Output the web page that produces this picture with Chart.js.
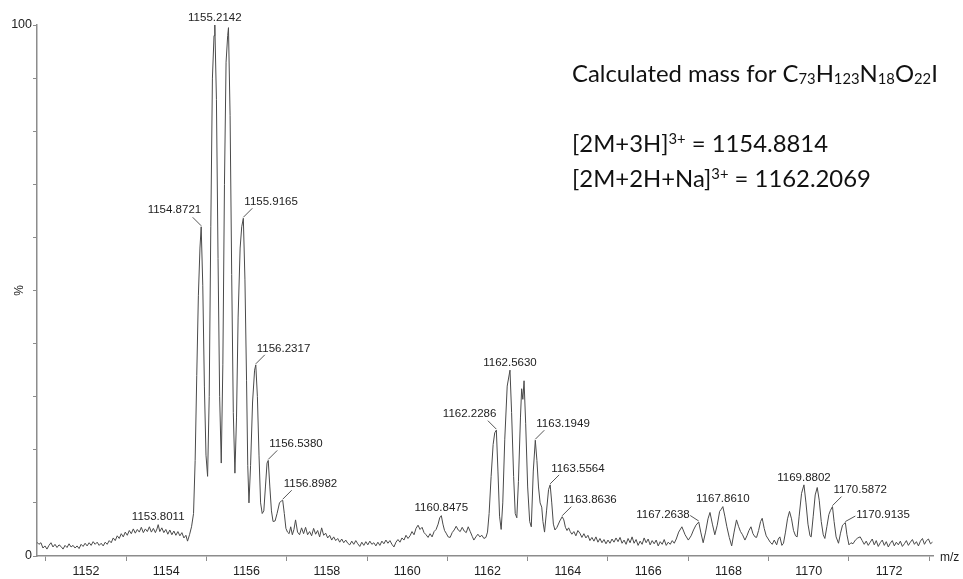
<!DOCTYPE html>
<html>
<head>
<meta charset="utf-8">
<script src="https://cdn.jsdelivr.net/npm/chart.js@4.4.1/dist/chart.umd.min.js"></script>
<style>
  html, body { margin: 0; padding: 0; background: #fff; }
  #spectrum { display: block; }
</style>
</head>
<body>
<canvas id="spectrum" width="963" height="579"></canvas>
<script>
// ---- spectrum: [m/z, relative intensity %] ----
const lowMassNoise = [
  [1150.78,2.6],[1150.83,2.2],[1150.88,2.5],[1150.93,1.5],[1150.98,1.9],[1151.03,1.3],[1151.08,2.0],[1151.13,2.5],
  [1151.18,1.7],[1151.23,2.2],[1151.28,1.6],[1151.33,2.1],[1151.38,1.8],[1151.43,1.3],[1151.48,2.0],[1151.53,1.6],
  [1151.58,2.3],[1151.63,1.7],[1151.68,2.0],[1151.73,1.5],[1151.78,1.9],[1151.83,1.4],[1151.88,2.2],[1151.93,1.8],
  [1151.98,2.4],[1152.03,1.9],[1152.08,2.5],[1152.13,2.0],[1152.18,2.7],[1152.23,2.2],[1152.28,2.6],[1152.33,2.0],
  [1152.38,2.4],[1152.43,1.9],[1152.48,2.6],[1152.53,2.2],[1152.58,2.9],[1152.63,2.5],[1152.68,3.4],[1152.73,2.9],
  [1152.78,3.8],[1152.83,3.3],[1152.88,4.2],[1152.93,3.6],[1152.98,4.5],[1153.03,3.9],[1153.08,4.8],[1153.13,4.2],
  [1153.18,5.1],[1153.23,4.3],[1153.28,5.0],[1153.33,4.5],[1153.38,5.4],[1153.43,4.4],[1153.48,5.1],[1153.53,4.6],
  [1153.58,5.5],[1153.63,4.5],[1153.68,5.2],[1153.73,4.4],[1153.77,5.1],[1153.80,5.9],[1153.84,4.6],[1153.89,5.3],
  [1153.94,4.4],[1153.99,5.0],[1154.04,4.1],[1154.09,4.9],[1154.14,4.0],[1154.19,4.7],[1154.24,3.9],[1154.29,4.6],
  [1154.34,3.8],[1154.39,4.4],[1154.44,3.4],[1154.49,3.9],[1154.53,2.8],[1154.58,4.0],[1154.63,5.5]
];
const mainCluster = [
  [1154.68,8],[1154.72,18],[1154.76,34],[1154.80,49],[1154.84,58],[1154.87,62],[1154.91,51],[1154.95,32],
  [1154.99,19],[1155.03,15],[1155.07,30],[1155.11,62],[1155.15,90],[1155.19,98],[1155.21,100],[1155.25,86],
  [1155.29,56],[1155.33,30],[1155.37,17.5],[1155.41,36],[1155.45,70],[1155.49,93],[1155.53,98],[1155.55,99.5],
  [1155.59,83],[1155.63,53],[1155.67,27],[1155.71,15.6],[1155.75,26],[1155.79,45],[1155.84,58],[1155.88,62],
  [1155.92,63.6],[1155.96,52],[1156.00,33],[1156.03,17],[1156.06,10],[1156.10,17],[1156.15,29],[1156.20,35],
  [1156.23,36],[1156.27,30],[1156.31,19],[1156.35,10],[1156.39,8],[1156.43,8.5],[1156.47,13],[1156.51,17.5],
  [1156.54,18],[1156.58,13],[1156.62,8.5],[1156.66,6.5],[1156.71,6.6],[1156.76,8],[1156.82,10],[1156.87,10.4],
  [1156.90,10.5],[1156.94,8],[1156.98,5.2],[1157.02,4.5]
];
const midNoise = [
  [1157.06,4.2],[1157.10,5.5],[1157.14,4.0],[1157.18,5.0],[1157.22,6.8],[1157.27,4.5],[1157.32,4.0],[1157.37,5.3],
  [1157.42,4.2],[1157.47,5.4],[1157.52,4.0],[1157.57,4.6],[1157.62,3.8],[1157.67,5.2],[1157.72,4.1],[1157.77,4.8],
  [1157.82,3.6],[1157.87,5.3],[1157.92,3.9],[1157.97,4.3],[1158.02,3.4],[1158.07,3.9],[1158.12,3.0],[1158.17,3.6],
  [1158.22,2.9],[1158.27,3.3],[1158.32,2.6],[1158.37,3.2],[1158.42,2.5],[1158.47,3.0],[1158.52,2.4],[1158.57,2.1],
  [1158.62,2.8],[1158.67,2.2],[1158.72,2.9],[1158.77,2.3],[1158.82,1.8],[1158.87,2.6],[1158.92,2.0],[1158.97,2.7],
  [1159.02,2.1],[1159.07,2.8],[1159.12,2.2],[1159.17,2.5],[1159.22,1.9],[1159.27,2.6],[1159.32,2.0],[1159.37,2.8],
  [1159.42,2.3],[1159.47,3.0],[1159.52,2.4],[1159.57,2.9],[1159.62,2.2],[1159.67,1.7],[1159.72,2.6],[1159.77,3.1],
  [1159.82,2.6],[1159.87,3.4],[1159.92,3.0],[1159.97,3.9],[1160.02,3.3],
  [1160.07,3.8],[1160.12,4.6],[1160.17,4.0],[1160.22,5.2],[1160.27,5.8],[1160.32,5.0],[1160.37,5.4],[1160.42,4.4],
  [1160.47,4.0],[1160.52,3.5],[1160.57,4.2],[1160.62,3.6],[1160.67,4.6],[1160.72,5.0],[1160.77,6.0],[1160.81,7.2],
  [1160.85,7.6],[1160.89,6.0],[1160.93,4.8],[1160.97,4.3],[1161.02,3.6],[1161.07,3.5],[1161.12,4.4],[1161.17,4.9],
  [1161.22,5.6],[1161.27,4.9],[1161.32,4.6],[1161.37,5.4],[1161.42,4.7],[1161.47,4.4],[1161.52,5.5],[1161.57,4.6],
  [1161.62,3.7],[1161.66,3.0],[1161.71,3.6],[1161.76,4.1],[1161.81,3.6],[1161.86,3.9],[1161.91,3.3],[1161.96,3.5],
  [1162.00,4.5]
];
const sodiumCluster = [
  [1162.04,8],[1162.09,15],[1162.14,21],[1162.18,23.2],[1162.22,23.7],[1162.26,16],[1162.30,7.5],[1162.34,5],
  [1162.38,10],[1162.43,22],[1162.49,32],[1162.56,35],[1162.60,27],[1162.65,15],[1162.69,8],[1162.73,7.2],
  [1162.77,14],[1162.82,26],[1162.85,31.5],[1162.88,29.5],[1162.91,33],[1162.95,25],[1163.00,13],[1163.05,6.5],
  [1163.09,5.5],[1163.14,16],[1163.19,21.8],[1163.23,18],[1163.27,13],[1163.31,10],[1163.35,9.2],[1163.38,6.5],
  [1163.42,4.5],[1163.47,8.5],[1163.52,12.5],[1163.56,13.4],[1163.60,10],[1163.64,6],[1163.68,4.9],[1163.73,5.4],
  [1163.80,6.6],[1163.86,7.4],[1163.90,6.8],[1163.94,5.4],[1163.98,4.8],[1164.02,5.3],[1164.06,4.6]
];
const quietRegion = [
  [1164.10,4.1],[1164.15,4.6],[1164.20,3.8],[1164.25,4.8],[1164.30,4.3],[1164.35,3.5],[1164.40,4.2],[1164.45,3.4],
  [1164.50,3.9],[1164.55,2.9],[1164.60,3.5],[1164.65,2.8],[1164.70,3.6],[1164.75,2.6],[1164.80,3.3],[1164.85,2.5],
  [1164.90,3.1],[1164.95,2.3],[1165.00,3.0],[1165.05,2.4],[1165.10,3.2],[1165.15,2.6],[1165.20,3.4],[1165.25,2.7],
  [1165.30,3.5],[1165.35,2.4],[1165.40,3.0],[1165.45,2.2],[1165.50,3.3],[1165.55,2.5],[1165.60,3.6],[1165.65,2.4],
  [1165.70,3.1],[1165.75,2.0],[1165.80,2.8],[1165.85,2.2],[1165.90,3.4],[1165.95,2.5],[1166.00,3.2],[1166.05,2.1],
  [1166.10,2.9],[1166.15,2.3],[1166.20,3.0],[1166.25,1.9],[1166.30,2.7],[1166.35,2.2],[1166.40,3.1],[1166.45,2.0],
  [1166.50,2.6],[1166.55,2.2],[1166.60,2.9],[1166.65,2.4],[1166.70,3.2]
];
const highCluster = [
  [1166.76,4.5],[1166.84,5.5],[1166.92,4.0],[1167.00,3.0],[1167.07,3.8],[1167.13,4.9],[1167.19,5.8],[1167.26,6.4],
  [1167.31,4.5],[1167.37,2.5],[1167.43,4.5],[1167.49,7.0],[1167.54,8.2],[1167.60,6.0],[1167.66,4.0],[1167.72,5.8],
  [1167.78,8.4],[1167.82,8.8],[1167.86,9.3],[1167.91,7.5],[1167.96,5.5],[1168.02,3.5],[1168.08,1.9],[1168.14,4.5],
  [1168.20,6.8],[1168.25,5.6],[1168.30,4.6],[1168.35,4.0],[1168.41,3.0],[1168.46,3.8],[1168.51,4.8],[1168.56,5.5],
  [1168.61,4.2],[1168.66,3.6],[1168.70,3.5],[1168.75,4.8],[1168.80,6.5],[1168.84,7.1],[1168.89,5.2],[1168.94,3.8],
  [1168.99,3.2],[1169.04,2.6],[1169.09,2.2],[1169.14,3.0],[1169.20,2.1],[1169.24,3.2],[1169.28,3.6],[1169.33,2.0],
  [1169.37,2.4],[1169.42,4.5],[1169.47,7.0],[1169.52,8.4],[1169.57,7.0],[1169.62,4.8],[1169.67,3.8],[1169.71,3.6],
  [1169.76,7.5],[1169.82,11.8],[1169.88,13.4],[1169.93,10.0],[1169.98,6.0],[1170.03,3.8],[1170.06,3.6],[1170.11,7.5],
  [1170.16,11.5],[1170.21,12.9],[1170.26,10.5],[1170.31,6.5],[1170.36,4.0],[1170.40,3.3],[1170.45,5.5],[1170.50,7.8],
  [1170.54,8.6],[1170.59,9.3],[1170.63,6.5],[1170.68,3.6],[1170.74,2.4],[1170.79,4.3],[1170.84,5.8],[1170.87,6.0],
  [1170.91,6.3],[1170.95,4.0],[1171.00,2.1]
];
const tailNoise = [
  [1171.05,2.5],[1171.10,2.3],[1171.16,3.0],[1171.22,3.4],[1171.28,3.6],[1171.33,2.9],[1171.38,2.2],[1171.43,2.8],
  [1171.48,2.0],[1171.53,2.6],[1171.58,3.2],[1171.63,2.1],[1171.68,2.9],[1171.73,1.8],[1171.78,2.5],[1171.83,3.0],
  [1171.88,2.0],[1171.93,2.7],[1171.98,1.7],[1172.03,2.4],[1172.08,2.9],[1172.13,1.9],[1172.18,2.6],[1172.23,2.1],
  [1172.28,2.8],[1172.33,1.8],[1172.38,2.3],[1172.43,2.9],[1172.48,2.0],[1172.53,2.6],[1172.58,3.1],[1172.63,2.2],
  [1172.68,2.7],[1172.73,1.9],[1172.78,2.8],[1172.83,3.3],[1172.88,2.2],[1172.93,2.9],[1172.98,3.2],[1173.03,2.3],
  [1173.08,2.6]
];

const peakLabels = ['1153.8011','1154.8721','1155.2142','1155.9165','1156.2317','1156.5380','1156.8982',
  '1160.8475','1162.2286','1162.5630','1163.1949','1163.5564','1163.8636','1167.2638','1167.8610',
  '1169.8802','1170.5872','1170.9135'];

const xTickValues = [1151,1152,1153,1154,1155,1156,1157,1158,1159,1160,1161,1162,1163,1164,1165,1166,1167,1168,1169,1170,1171,1172,1173];
const xLabelValues = [1152,1154,1156,1158,1160,1162,1164,1166,1168,1170,1172];
const yTickValues = [0,10,20,30,40,50,60,70,80,90,100];
const yLabelValues = [0,100];

const formulaLine = [['Calculated mass for C',''],['73','sub'],['H',''],['123','sub'],['N',''],['18','sub'],['O',''],['22','sub'],['I','']];
const ionLine1 = [['[2M+3H]',''],['3+','sup'],[' = 1154.8814','']];
const ionLine2 = [['[2M+2H+Na]',''],['3+','sup'],[' = 1162.2069','']];

// where each peak label sits relative to its peak
const labelPlace = {
  '1154.8721':'left', '1162.2286':'left', '1167.2638':'farLeft', '1170.9135':'farRight',
  '1155.9165':'right', '1156.2317':'right', '1156.5380':'right', '1156.8982':'right',
  '1163.1949':'right', '1163.5564':'right', '1163.8636':'right', '1170.5872':'right'
};

const spectrum = [].concat(lowMassNoise, mainCluster, midNoise, sodiumCluster, quietRegion, highCluster, tailNoise)
  .map(p => ({ x: p[0], y: p[1] }));

const AXIS_GREY = '#8c8c8c';
const TEXT_FONT = '"Liberation Sans", Arial, sans-serif';
const NOTE_FONT = 'Lato, "Open Sans", sans-serif';

function richWidth(ctx, parts, size) {
    let w = 0;
    parts.forEach(([t, kind]) => {
        ctx.font = `${kind ? size * 0.62 : size}px ${NOTE_FONT}`;
        w += ctx.measureText(t).width;
    });
    return w;
}

function drawRich(ctx, parts, x0, base, size) {
    let cx = x0;
    parts.forEach(([t, kind]) => {
        const s = kind ? size * 0.62 : size;
        const dy = kind === 'sub' ? size * 0.1 : kind === 'sup' ? -size * 0.32 : 0;
        ctx.font = `${s}px ${NOTE_FONT}`;
        ctx.fillText(t, cx, base + dy);
        cx += ctx.measureText(t).width;
    });
}

const annotate = {
    id: 'annotate',
    afterDraw(chart) {
        const { ctx, chartArea } = chart;
        const xs = chart.scales.x, ys = chart.scales.y;
        ctx.save();

        // axis captions
        ctx.fillStyle = '#222';
        ctx.font = `12px ${TEXT_FONT}`;
        ctx.textBaseline = 'middle';
        ctx.textAlign = 'left';
        ctx.fillText('m/z', chartArea.right + 7, chartArea.bottom + 2);
        ctx.save();
        ctx.translate(20, ys.getPixelForValue(50));
        ctx.rotate(-Math.PI / 2);
        ctx.textAlign = 'center';
        ctx.fillText('%', 0, 0);
        ctx.restore();

        // peak labels with leader lines
        const pts = chart.data.datasets[0].data;
        ctx.font = `11.5px ${TEXT_FONT}`;
        ctx.strokeStyle = '#555';
        ctx.lineWidth = 1;
        peakLabels.forEach(label => {
            const m = parseFloat(label);
            let best = null;
            pts.forEach(p => {
                if (Math.abs(p.x - m) <= 0.045 && (!best || p.y > best.y)) best = p;
            });
            if (!best) return;
            const px = xs.getPixelForValue(best.x), py = ys.getPixelForValue(best.y);
            const place = labelPlace[label] || 'top';
            let tx = px, ty = py - 7.5, align = 'center', lead = null;
            if (place === 'left') { tx = px; ty = py - 16.5; align = 'right'; lead = [px - 8.5, py - 9.5]; }
            if (place === 'right') { tx = px + 1; ty = py - 16.5; align = 'left'; lead = [px + 9, py - 10]; }
            if (place === 'farLeft') { tx = px - 9; ty = py - 7; align = 'right'; lead = [px - 8.5, py - 6.5]; }
            if (place === 'farRight') { tx = px + 11; ty = py - 7.5; align = 'left'; lead = [px + 10, py - 6.5]; }
            ctx.textAlign = align;
            ctx.fillText(label, tx, ty);
            if (lead) {
                ctx.beginPath();
                ctx.moveTo(lead[0], lead[1]);
                ctx.lineTo(px, py - 1);
                ctx.stroke();
            }
        });

        // calculated mass note
        ctx.fillStyle = '#111';
        ctx.textAlign = 'left';
        ctx.textBaseline = 'alphabetic';
        const size = 26 * 366 / richWidth(ctx, formulaLine, 26);
        drawRich(ctx, formulaLine, 572, 82, size);
        drawRich(ctx, ionLine1, 572, 152, size);
        drawRich(ctx, ionLine2, 572, 187, size);

        ctx.restore();
    }
};

new Chart(document.getElementById('spectrum'), {
    type: 'line',
    data: {
        datasets: [{
            data: spectrum,
            borderColor: '#4a4a4a',
            borderWidth: 1,
            pointRadius: 0,
            tension: 0,
            fill: false
        }]
    },
    options: {
        responsive: false,
        animation: false,
        devicePixelRatio: 1,
        layout: { padding: { left: 0, top: 25, right: 30, bottom: 0 } },
        plugins: { legend: { display: false }, tooltip: { enabled: false } },
        scales: {
            x: {
                type: 'linear',
                min: 1150.782,
                max: 1173.093,
                afterBuildTicks: s => { s.ticks = xTickValues.map(v => ({ value: v })); },
                afterFit: s => { s.height = 23; },
                border: { display: true, color: AXIS_GREY, width: 1.5 },
                grid: {
                    drawOnChartArea: false,
                    tickLength: 5,
                    tickColor: c => (c.tick && c.tick.value % 2 !== 0) ? AXIS_GREY : 'rgba(0,0,0,0)'
                },
                ticks: {
                    autoSkip: false,
                    maxRotation: 0,
                    padding: 3,
                    color: '#222',
                    font: { family: TEXT_FONT, size: 12.5 },
                    callback: v => xLabelValues.includes(v) ? String(v) : ''
                }
            },
            y: {
                min: 0,
                max: 100,
                afterBuildTicks: s => { s.ticks = yTickValues.map(v => ({ value: v })); },
                afterFit: s => { s.width = 37; },
                border: { display: true, color: AXIS_GREY, width: 1.5 },
                grid: { drawOnChartArea: false, tickLength: 4, tickColor: AXIS_GREY },
                ticks: {
                    autoSkip: false,
                    padding: 1,
                    color: '#222',
                    font: { family: TEXT_FONT, size: 12.5 },
                    callback: v => yLabelValues.includes(v) ? String(v) : ''
                }
            }
        }
    },
    plugins: [annotate]
});
</script>
</body>
</html>
